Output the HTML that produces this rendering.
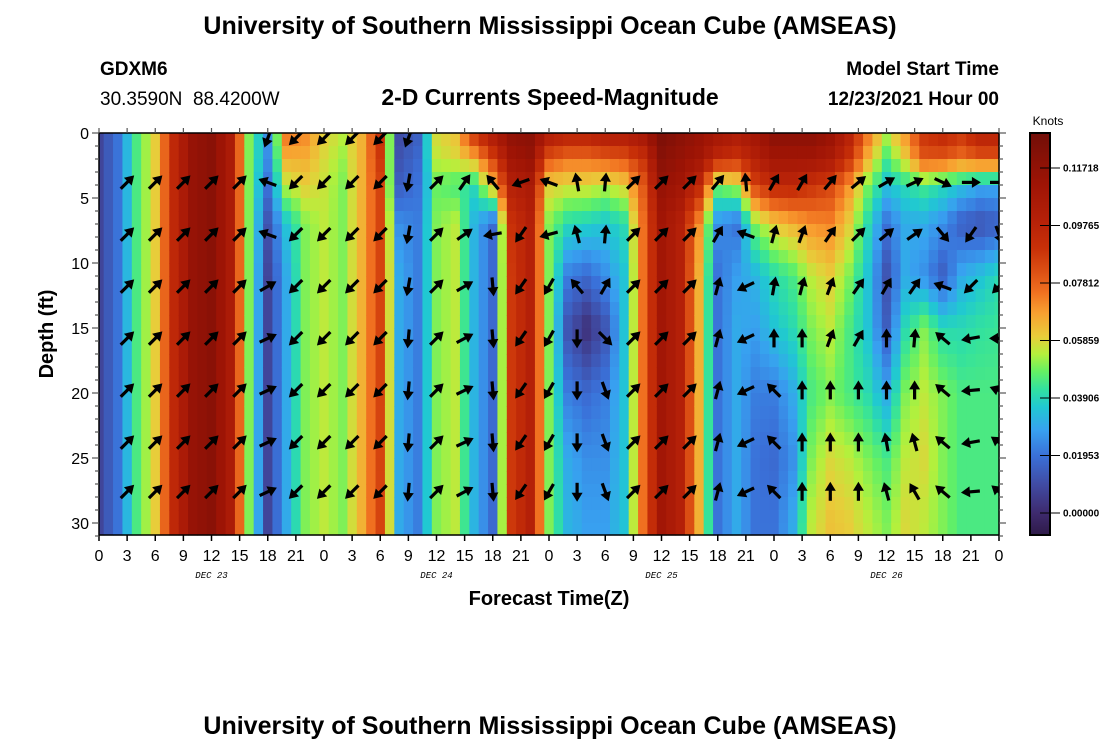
<!DOCTYPE html>
<html><head><meta charset="utf-8"><style>
body{margin:0;background:#fff;}
svg text{font-family:"Liberation Sans",Arial,sans-serif;}
</style></head><body>
<svg id="chart" width="1100" height="750" xmlns="http://www.w3.org/2000/svg">
<defs><clipPath id="plotclip"><rect x="99" y="133" width="900" height="402"/></clipPath></defs>
<rect width="1100" height="750" fill="#fff"/>
<text x="550" y="34" text-anchor="middle" font-size="25" font-weight="bold">University of Southern Mississippi Ocean Cube (AMSEAS)</text>
<text x="100" y="75" font-size="19" font-weight="bold">GDXM6</text>
<text x="100" y="105" font-size="19" xml:space="preserve">30.3590N  88.4200W</text>
<text x="550" y="105" text-anchor="middle" font-size="23" font-weight="bold">2-D Currents Speed-Magnitude</text>
<text x="999" y="75" text-anchor="end" font-size="19" font-weight="bold">Model Start Time</text>
<text x="999" y="105" text-anchor="end" font-size="19" font-weight="bold">12/23/2021 Hour 00</text>
<g id="heat"></g>
<g id="arrows" clip-path="url(#plotclip)"></g>
<g id="axes"></g>
<text transform="translate(53,334) rotate(-90)" text-anchor="middle" font-size="20" font-weight="bold">Depth (ft)</text>
<text x="549" y="605" text-anchor="middle" font-size="20" font-weight="bold">Forecast Time(Z)</text>
<g id="cbar"></g>
<text x="1048" y="125" text-anchor="middle" font-size="12">Knots</text>
<text x="550" y="734" text-anchor="middle" font-size="25" font-weight="bold">University of Southern Mississippi Ocean Cube (AMSEAS)</text>
</svg>
<script>
// data: speed (knots) at depth levels, every 2 hours from hour 0 to 96
const depthLevels=[0,2,4,7,11,15,20,25,30];
const dataHours=[0,2,4,6,8,10,12,14,16,18,20,22,24,26,28,30,32,34,36,38,40,42,44,46,48,50,52,54,56,58,60,62,64,66,68,70,72,74,76,78,80,82,84,86,88,90,92,94,96];
const speed0ft=[.008,.02,.045,.06,.095,.115,.12,.105,.05,.025,.075,.072,.06,.055,.065,.09,.01,.015,.058,.062,.09,.105,.118,.12,.105,.1,.1,.105,.105,.11,.125,.12,.115,.11,.105,.11,.12,.12,.12,.115,.1,.075,.055,.07,.09,.095,.09,.1,.1];
const speed2ft=[.008,.02,.045,.06,.095,.115,.12,.105,.05,.025,.065,.065,.058,.052,.065,.088,.012,.018,.055,.058,.065,.085,.11,.115,.08,.075,.075,.078,.08,.09,.12,.115,.11,.095,.09,.1,.11,.11,.11,.105,.09,.065,.045,.06,.08,.08,.075,.08,.08];
const speed4ft=[.008,.02,.045,.06,.095,.115,.12,.105,.05,.02,.055,.06,.056,.05,.065,.085,.015,.02,.048,.045,.04,.065,.1,.105,.06,.058,.058,.055,.06,.08,.115,.11,.095,.05,.055,.085,.095,.095,.09,.085,.07,.05,.035,.04,.045,.04,.035,.03,.03];
const speed7ft=[.008,.02,.045,.06,.095,.115,.12,.105,.05,.012,.035,.05,.055,.05,.065,.085,.025,.022,.05,.055,.032,.018,.09,.1,.05,.04,.038,.035,.04,.075,.11,.1,.07,.025,.02,.05,.06,.065,.07,.072,.06,.04,.02,.03,.03,.025,.015,.012,.015];
const speed11ft=[.008,.02,.045,.06,.095,.115,.12,.105,.05,.008,.03,.05,.055,.05,.065,.085,.03,.022,.05,.055,.032,.018,.088,.1,.05,.022,.018,.025,.035,.075,.11,.1,.065,.02,.028,.032,.04,.045,.055,.06,.05,.035,.012,.03,.025,.015,.03,.035,.04];
const speed15ft=[.008,.02,.045,.06,.095,.115,.12,.105,.05,.008,.03,.05,.055,.05,.065,.085,.03,.022,.05,.055,.032,.018,.088,.1,.05,.012,.002,.012,.035,.075,.11,.1,.065,.02,.03,.028,.035,.04,.05,.055,.045,.035,.015,.04,.05,.04,.04,.042,.043];
const speed20ft=[.008,.02,.045,.06,.095,.115,.12,.105,.05,.008,.03,.05,.055,.05,.065,.085,.03,.022,.05,.055,.032,.018,.088,.1,.05,.022,.018,.022,.035,.075,.11,.1,.065,.02,.03,.022,.022,.03,.045,.05,.045,.04,.03,.05,.055,.05,.045,.045,.045];
const speed25ft=[.008,.02,.045,.06,.095,.115,.12,.105,.05,.008,.03,.05,.055,.05,.065,.085,.03,.022,.05,.055,.032,.018,.088,.1,.05,.03,.025,.025,.035,.075,.11,.1,.065,.02,.03,.02,.018,.025,.05,.058,.055,.05,.045,.055,.058,.05,.045,.045,.045];
const speed30ft=[.008,.02,.045,.06,.095,.115,.12,.105,.05,.008,.03,.05,.055,.05,.065,.085,.03,.022,.05,.055,.032,.018,.088,.1,.05,.032,.028,.028,.035,.075,.11,.1,.065,.02,.03,.02,.02,.03,.055,.062,.06,.055,.05,.058,.055,.05,.045,.045,.045];
const speedRows=[speed0ft,speed2ft,speed4ft,speed7ft,speed11ft,speed15ft,speed20ft,speed25ft,speed30ft];
// arrows: direction in compass degrees (0 = north/up), hours 3..96 every 3h
const arrowHours=[3,6,9,12,15,18,21,24,27,30,33,36,39,42,45,48,51,54,57,60,63,66,69,72,75,78,81,84,87,90,93,96];
const arrowDepths=[3.8,7.8,11.8,15.8,19.8,23.8,27.6];
const dir4ft=[45,45,45,45,45,290,225,225,225,225,190,45,35,320,250,290,350,5,45,45,45,40,355,30,30,40,50,60,65,115,90,90];
const dir8ft=[45,45,45,45,45,290,225,225,225,225,190,45,55,260,215,255,345,5,45,45,45,30,290,15,20,35,45,50,55,140,215,160];
const dir12ft=[45,45,45,45,45,60,225,225,225,225,190,45,60,175,215,210,320,30,45,45,45,15,245,10,15,20,35,30,35,290,225,225];
const dir16ft=[45,45,45,45,45,65,225,225,225,225,185,45,62,175,215,210,180,135,45,45,45,15,245,0,0,20,30,0,5,310,260,270];
const dir20ft=[45,45,45,45,45,65,225,225,225,225,185,45,64,175,215,210,180,160,45,45,45,15,245,315,0,0,0,0,0,310,265,290];
const dir24ft=[45,45,45,45,45,65,225,225,225,225,185,45,65,175,215,210,180,160,45,45,45,15,245,315,0,0,0,350,345,310,260,305];
const dir28ft=[45,45,45,45,45,65,225,225,225,225,185,45,62,175,215,210,180,160,45,45,45,15,245,315,0,0,0,345,330,310,265,310];
const dirRows=[dir4ft,dir8ft,dir12ft,dir16ft,dir20ft,dir24ft,dir28ft];
const surfaceArrowHours=[18,21,24,27,30,33];
const surfaceArrowDirs=[200,225,225,225,225,200];
const xTickLabels=["0","3","6","9","12","15","18","21","0","3","6","9","12","15","18","21","0","3","6","9","12","15","18","21","0","3","6","9","12","15","18","21","0"];
const yTickLabels=["0","5","10","15","20","25","30"];
const dayLabels=["DEC 23","DEC 24","DEC 25","DEC 26"];
const cbarTicks=[0.11718,0.09765,0.07812,0.05859,0.03906,0.01953,0.00000];

const NS="http://www.w3.org/2000/svg";
const X0=99,X1=999,Y0=133,YB=535;
const xScale=h=>X0+h*(X1-X0)/96;
const yScale=d=>Y0+d*13;
const cmapStops=[[-0.0075,[46,26,72]],[0,[62,42,110]],[0.01,[64,76,165]],[0.0195,[58,112,216]],[0.028,[56,160,240]],[0.036,[32,200,210]],[0.042,[50,225,160]],[0.048,[100,240,100]],[0.054,[180,240,60]],[0.06,[232,205,58]],[0.068,[248,160,48]],[0.075,[240,112,32]],[0.082,[220,80,20]],[0.09,[200,48,8]],[0.1,[180,32,8]],[0.112,[158,20,5]],[0.13,[112,14,8]]];
function color(v){
 if(v<=cmapStops[0][0])return `rgb(${cmapStops[0][1]})`;
 for(let i=1;i<cmapStops.length;i++){if(v<=cmapStops[i][0]){const a=cmapStops[i-1],b=cmapStops[i],f=(v-a[0])/(b[0]-a[0]);
  return 'rgb('+a[1].map((c,k)=>Math.round(c+(b[1][k]-c)*f)).join(',')+')';}}
 return `rgb(${cmapStops[cmapStops.length-1][1]})`;}
function mk(tag,attrs,parent){const e=document.createElementNS(NS,tag);for(const k in attrs)e.setAttribute(k,attrs[k]);parent.appendChild(e);return e;}
function interp(arr,keys,x){if(x<=keys[0])return arr[0];for(let i=1;i<keys.length;i++){if(x<=keys[i]){const f=(x-keys[i-1])/(keys[i]-keys[i-1]);return arr[i-1]*(1-f)+arr[i]*f;}}return arr[arr.length-1];}
function speedAt(h,d){const col=speedRows.map(r=>interp(r,dataHours,h));return interp(col,depthLevels,d);}

const heat=document.getElementById('heat');
for(let h=0;h<=96;h++){
 const xa=Math.max(X0,xScale(h-0.5)),xb=Math.min(X1,xScale(h+0.5));
 for(let d=0;d<31;d++){
  const y1=yScale(d),y2=Math.min(YB,yScale(d+1));
  const r=mk('rect',{x:xa.toFixed(2),y:y1,width:(xb-xa+0.6).toFixed(2),height:(y2-y1+0.6).toFixed(2),fill:color(speedAt(h,d+0.5))},heat);
  
  
 }}

const arrows=document.getElementById('arrows');
function arrow(h,d,ang){
 const g=mk('g',{transform:`translate(${xScale(h).toFixed(1)},${yScale(d).toFixed(1)}) rotate(${ang})`},arrows);
 
 
 mk('line',{x1:0,y1:9,x2:0,y2:-3,stroke:'#000','stroke-width':3.2},g);
 mk('path',{d:'M-5.5,-1 L0,-10 L5.5,-1 Z',fill:'#000'},g);
}
dirRows.forEach((row,ri)=>row.forEach((a,ci)=>arrow(arrowHours[ci],arrowDepths[ri],a)));
surfaceArrowHours.forEach((h,i)=>arrow(h,0.4,surfaceArrowDirs[i]));

const ax=document.getElementById('axes');
mk('rect',{x:X0,y:Y0,width:X1-X0,height:YB-Y0,fill:'none',stroke:'#000','stroke-width':1.5},ax);
xTickLabels.forEach((l,i)=>{const h=i*3,x=xScale(h);
 mk('line',{x1:x,y1:YB,x2:x,y2:YB+6,stroke:'#000','stroke-width':1.5},ax);
 mk('line',{x1:x,y1:Y0,x2:x,y2:Y0-5,stroke:'#555','stroke-width':1.2},ax);
 const t=mk('text',{x:x,y:YB+26,'text-anchor':'middle','font-size':16},ax);t.textContent=l;
 
 });
dayLabels.forEach((l,i)=>{const t=mk('text',{x:xScale(12+24*i),y:578,'text-anchor':'middle','font-size':9,'font-style':'italic',style:'font-family:"Liberation Mono",monospace'},ax);t.textContent=l;
 
 });
for(let d=0;d<=31;d++){const y=yScale(d),maj=d%5===0;
 mk('line',{x1:X0-(maj?7:4),y1:y,x2:X0,y2:y,stroke:'#555','stroke-width':1.2},ax);
 mk('line',{x1:X1,y1:y,x2:X1+(maj?7:4),y2:y,stroke:'#555','stroke-width':1.2},ax);}
yTickLabels.forEach((l,i)=>{const t=mk('text',{x:X0-10,y:yScale(i*5)+6,'text-anchor':'end','font-size':16},ax);t.textContent=l;
 
 });

const cb=document.getElementById('cbar');
const cbY=v=>513-(v/0.01953)*57.5;
for(let y=133;y<535;y++){const v=0-((y+0.5)-513)/57.5*0.01953;mk('rect',{x:1030,y:y,width:20,height:1.4,fill:color(v)},cb);}
mk('rect',{x:1030,y:133,width:20,height:402,fill:'none',stroke:'#000','stroke-width':2},cb);
cbarTicks.forEach(v=>{const y=cbY(v);mk('line',{x1:1040,y1:y,x2:1060,y2:y,stroke:'#000','stroke-width':1},cb);
 const t=mk('text',{x:1063,y:y+3.5,'font-size':10,'font-weight':'bold'},cb);t.textContent=v.toFixed(5);
 
 });
</script>
</body></html>
